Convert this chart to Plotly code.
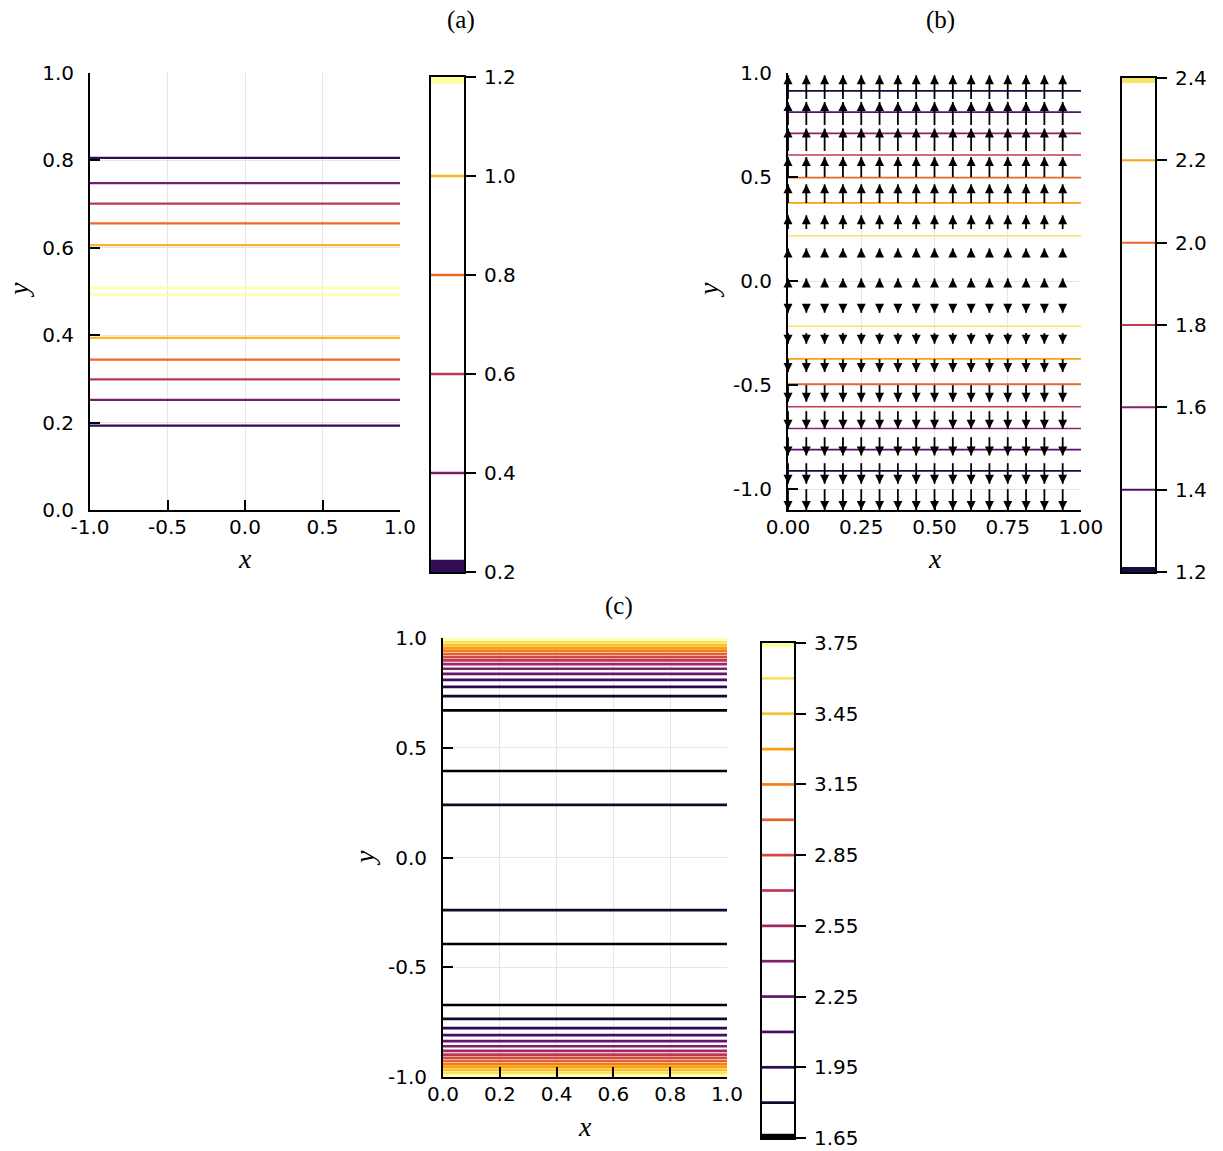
import plotly.graph_objects as go
from plotly.colors import sample_colorscale

W, H = 1223, 1151

# ---------------- data ----------------
# panel (a)
a_xticks = [-1.0, -0.5, 0.0, 0.5, 1.0]
a_xticktext = ["-1.0", "-0.5", "0.0", "0.5", "1.0"]
a_yticks = [0.0, 0.2, 0.4, 0.6, 0.8, 1.0]
a_yticktext = ["0.0", "0.2", "0.4", "0.6", "0.8", "1.0"]
a_xspan = [-1.0, 1.0]
a_line_y = [0.806, 0.748, 0.701, 0.656, 0.606, 0.508, 0.493, 0.394, 0.344, 0.299, 0.252, 0.193]
a_line_level = [0.2, 0.4, 0.6, 0.8, 1.0, 1.2, 1.2, 1.0, 0.8, 0.6, 0.4, 0.2]
a_cbar_levels = [0.2, 0.4, 0.6, 0.8, 1.0, 1.2]
a_cbar_ticks = [0.2, 0.4, 0.6, 0.8, 1.0, 1.2]
a_cbar_ticktext = ["0.2", "0.4", "0.6", "0.8", "1.0", "1.2"]
a_crange = [0.0, 1.2]

# panel (b)
b_xticks = [0.0, 0.25, 0.5, 0.75, 1.0]
b_xticktext = ["0.00", "0.25", "0.50", "0.75", "1.00"]
b_yticks = [-1.0, -0.5, 0.0, 0.5, 1.0]
b_yticktext = ["-1.0", "-0.5", "0.0", "0.5", "1.0"]
b_xspan = [0.0, 1.0]
b_line_y = [0.914, 0.812, 0.710, 0.606, 0.497, 0.376, 0.218,
            -0.217, -0.374, -0.495, -0.604, -0.708, -0.810, -0.912]
b_line_level = [1.2, 1.4, 1.6, 1.8, 2.0, 2.2, 2.4,
                2.4, 2.2, 2.0, 1.8, 1.6, 1.4, 1.2]
b_cbar_levels = [1.2, 1.4, 1.6, 1.8, 2.0, 2.2, 2.4]
b_cbar_ticks = [1.2, 1.4, 1.6, 1.8, 2.0, 2.2, 2.4]
b_cbar_ticktext = ["1.2", "1.4", "1.6", "1.8", "2.0", "2.2", "2.4"]
b_crange = [1.05, 2.5]
b_arrow_x = [0.0, 0.0625, 0.125, 0.1875, 0.25, 0.3125, 0.375, 0.4375,
             0.5, 0.5625, 0.625, 0.6875, 0.75, 0.8125, 0.875, 0.9375]
b_arrow_y = [0.875, 0.75, 0.625, 0.5, 0.375, 0.25, 0.125, 0.0,
             -0.125, -0.25, -0.375, -0.5, -0.625, -0.75, -0.875, -1.0]
b_arrow_v = [0.114, 0.111, 0.108, 0.096, 0.090, 0.066, 0.032, 0.013,
             -0.027, -0.051, -0.062, -0.080, -0.085, -0.088, -0.099, -0.100]

# panel (c)
c_xticks = [0.0, 0.2, 0.4, 0.6, 0.8, 1.0]
c_xticktext = ["0.0", "0.2", "0.4", "0.6", "0.8", "1.0"]
c_yticks = [-1.0, -0.5, 0.0, 0.5, 1.0]
c_yticktext = ["-1.0", "-0.5", "0.0", "0.5", "1.0"]
c_xspan = [0.0, 1.0]
c_line_y = [0.993, 0.980, 0.967, 0.954, 0.941, 0.927, 0.913, 0.898, 0.881,
            0.860, 0.837, 0.809, 0.777, 0.735, 0.670, 0.394, 0.240,
            -0.240, -0.394, -0.672, -0.735, -0.777, -0.809, -0.837, -0.860,
            -0.881, -0.898, -0.913, -0.927, -0.941, -0.954, -0.967, -0.980, -0.993]
c_line_level = [3.75, 3.60, 3.45, 3.30, 3.15, 3.00, 2.85, 2.70, 2.55,
                2.40, 2.25, 2.10, 1.95, 1.80, 1.65, 1.65, 1.80,
                1.80, 1.65, 1.65, 1.80, 1.95, 2.10, 2.25, 2.40,
                2.55, 2.70, 2.85, 3.00, 3.15, 3.30, 3.45, 3.60, 3.75]
c_cbar_levels = [1.65, 1.80, 1.95, 2.10, 2.25, 2.40, 2.55, 2.70, 2.85,
                 3.00, 3.15, 3.30, 3.45, 3.60, 3.75]
c_cbar_ticks = [1.65, 1.95, 2.25, 2.55, 2.85, 3.15, 3.45, 3.75]
c_cbar_ticktext = ["1.65", "1.95", "2.25", "2.55", "2.85", "3.15", "3.45", "3.75"]
c_crange = [1.65, 3.75]

# ---------------- helpers ----------------
def col(v, crange):
    t = (v - crange[0]) / (crange[1] - crange[0])
    t = min(max(t, 0.0), 1.0)
    return sample_colorscale("Inferno", [t])[0]


def dx(p0, p1):
    return [p0 / W, p1 / W]


def dy(top, bot):
    return [1 - bot / H, 1 - top / H]


TICKFONT = dict(family="DejaVu Sans", size=20, color="black")
GRID = "#e6e6e6"

fig = go.Figure()


def main_axes(xn, yn, xdom, ydom, xr, yr, xt, xtt, yt, ytt):
    xa = dict(domain=xdom, range=xr, anchor=yn, showline=True, linecolor="black",
              linewidth=2, ticks="inside", ticklen=10, tickwidth=2, tickcolor="black",
              showgrid=True, gridcolor=GRID, gridwidth=1, zeroline=False,
              tickmode="array", tickvals=xt, ticktext=xtt, tickfont=TICKFONT,
              ticklabelstandoff=-2, fixedrange=True, automargin=False)
    ya = dict(domain=ydom, range=yr, anchor=xn, showline=True, linecolor="black",
              linewidth=2, ticks="inside", ticklen=10, tickwidth=2, tickcolor="black",
              showgrid=True, gridcolor=GRID, gridwidth=1, zeroline=False,
              tickmode="array", tickvals=yt, ticktext=ytt, tickfont=TICKFONT,
              ticklabelstandoff=10, fixedrange=True, automargin=False)
    return xa, ya


def cbar_axes(xn, yn, xdom, ydom, yr, yt, ytt):
    xa = dict(domain=xdom, range=[0, 1], anchor=yn, showline=True, mirror=True,
              linecolor="black", linewidth=2, ticks="", showticklabels=False,
              showgrid=False, zeroline=False, fixedrange=True, automargin=False)
    ya = dict(domain=ydom, range=yr, anchor=xn, side="right", showline=True,
              mirror=True, linecolor="black", linewidth=2, ticks="outside",
              ticklen=10, tickwidth=2, tickcolor="black", showgrid=False,
              zeroline=False, tickmode="array", tickvals=yt, ticktext=ytt,
              tickfont=TICKFONT, ticklabelstandoff=4, fixedrange=True, automargin=False)
    return xa, ya


layout = {}
layout["xaxis"], layout["yaxis"] = main_axes("x", "y", dx(90, 400), dy(73, 510), [-1, 1], [0, 1],
                                             a_xticks, a_xticktext, a_yticks, a_yticktext)
layout["xaxis2"], layout["yaxis2"] = cbar_axes("x2", "y2", dx(431, 464), dy(77, 572),
                                               [a_cbar_ticks[0], a_cbar_ticks[-1]],
                                               a_cbar_ticks, a_cbar_ticktext)
layout["xaxis3"], layout["yaxis3"] = main_axes("x3", "y3", dx(788, 1081), dy(73, 510), [0, 1], [-1.1, 1.0],
                                               b_xticks, b_xticktext, b_yticks, b_yticktext)
layout["xaxis4"], layout["yaxis4"] = cbar_axes("x4", "y4", dx(1122, 1155), dy(78, 572),
                                               [b_cbar_ticks[0], b_cbar_ticks[-1]],
                                               b_cbar_ticks, b_cbar_ticktext)
layout["xaxis5"], layout["yaxis5"] = main_axes("x5", "y5", dx(443, 727), dy(638, 1077), [0, 1], [-1, 1],
                                               c_xticks, c_xticktext, c_yticks, c_yticktext)
layout["xaxis6"], layout["yaxis6"] = cbar_axes("x6", "y6", dx(762, 794), dy(643, 1138),
                                               [c_cbar_ticks[0], c_cbar_ticks[-1]],
                                               c_cbar_ticks, c_cbar_ticktext)

# ---------------- contour lines ----------------
def add_lines(ys, levels, xspan, crange, xa, ya, width):
    for yv, lv in zip(ys, levels):
        fig.add_trace(go.Scatter(x=xspan, y=[yv, yv], mode="lines",
                                 line=dict(color=col(lv, crange), width=width),
                                 xaxis=xa, yaxis=ya, showlegend=False, hoverinfo="skip"))


add_lines(a_line_y, a_line_level, a_xspan, a_crange, "x", "y", 2.3)
add_lines(b_line_y, b_line_level, b_xspan, b_crange, "x3", "y3", 1.6)
add_lines(c_line_y, c_line_level, c_xspan, c_crange, "x5", "y5", 2.7)

# ---------------- colorbars ----------------
shapes = []


def add_cbar(levels, crange, xa, ya, width, band_lo, band_hi):
    for lv in levels[1:-1]:
        fig.add_trace(go.Scatter(x=[0, 1], y=[lv, lv], mode="lines",
                                 line=dict(color=col(lv, crange), width=width),
                                 xaxis=xa, yaxis=ya, showlegend=False, hoverinfo="skip"))
    lo, hi = levels[0], levels[-1]
    shapes.append(dict(type="rect", xref=xa + " domain", yref=ya, x0=0, x1=1,
                       y0=lo, y1=lo + band_lo, fillcolor=col(lo, crange), line_width=0, layer="below"))
    shapes.append(dict(type="rect", xref=xa + " domain", yref=ya, x0=0, x1=1,
                       y0=hi - band_hi, y1=hi, fillcolor=col(hi, crange), line_width=0, layer="below"))


add_cbar(a_cbar_levels, a_crange, "x2", "y2", 2.3, 0.025, 0.014)
add_cbar(b_cbar_levels, b_crange, "x4", "y4", 2.0, 0.012, 0.012)
add_cbar(c_cbar_levels, c_crange, "x6", "y6", 2.7, 0.018, 0.018)

# ---------------- quiver arrows (panel b) ----------------
sx, sy = [], []
hx_up, hy_up, hx_dn, hy_dn = [], [], [], []
for yv, vv in zip(b_arrow_y, b_arrow_v):
    for xv in b_arrow_x:
        sx += [xv, xv, None]
        sy += [yv, yv + vv, None]
        if vv >= 0:
            hx_up.append(xv)
            hy_up.append(yv + vv)
        else:
            hx_dn.append(xv)
            hy_dn.append(yv + vv)

fig.add_trace(go.Scatter(x=sx, y=sy, mode="lines", line=dict(color="black", width=1.8),
                         xaxis="x3", yaxis="y3", showlegend=False, hoverinfo="skip",
                         cliponaxis=False))
fig.add_trace(go.Scatter(x=hx_up, y=hy_up, mode="markers",
                         marker=dict(symbol="arrow-up", size=9, color="black", line=dict(width=0)),
                         xaxis="x3", yaxis="y3", showlegend=False, hoverinfo="skip",
                         cliponaxis=False))
fig.add_trace(go.Scatter(x=hx_dn, y=hy_dn, mode="markers",
                         marker=dict(symbol="arrow-down", size=9, color="black", line=dict(width=0)),
                         xaxis="x3", yaxis="y3", showlegend=False, hoverinfo="skip",
                         cliponaxis=False))

# ---------------- text ----------------
annotations = []
SERIF = "Liberation Serif"


def txt(s, px, py, size, angle=0, italic=False):
    annotations.append(dict(text=s, x=px / W, y=1 - py / H, xref="paper", yref="paper",
                            showarrow=False, xanchor="center", yanchor="middle",
                            textangle=angle,
                            font=dict(family=SERIF, size=size, color="black",
                                      style="italic" if italic else "normal")))


txt("(a)", 461, 20, 25)
txt("(b)", 940, 20, 25)
txt("(c)", 619, 606, 25)
txt("x", 245, 558, 28, italic=True)
txt("y", 18, 290, 28, angle=-90, italic=True)
txt("x", 935, 558, 28, italic=True)
txt("y", 708, 290, 28, angle=-90, italic=True)
txt("x", 585, 1126, 28, italic=True)
txt("y", 364, 858, 28, angle=-90, italic=True)

fig.update_layout(**layout)
fig.update_layout(width=W, height=H,
                  margin=dict(l=0, r=0, t=0, b=0, pad=0, autoexpand=False),
                  paper_bgcolor="white", plot_bgcolor="white",
                  showlegend=False, shapes=shapes, annotations=annotations)

fig.write_html("out.html")
